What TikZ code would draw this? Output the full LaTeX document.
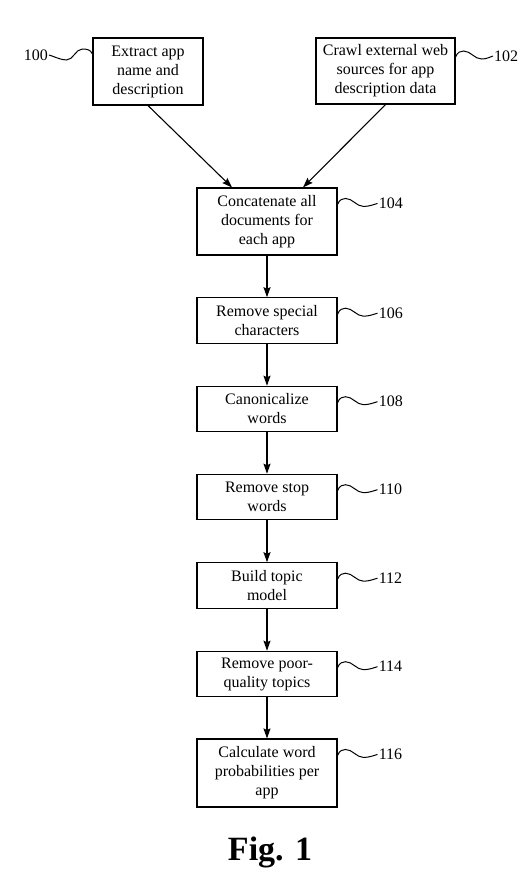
\documentclass[tikz,border=0pt]{standalone}
\usepackage{fontspec}
\setmainfont{Liberation Serif}
\usetikzlibrary{arrows.meta,calc}
\newcommand\squigR[2]{\draw[sq] ($(#1.east |- #2.west)+(0,1)$) .. controls +(2,-5) and +(-3,0) .. ++(8,-6) .. controls +(7,0) and +(-7,0) .. ++(18,8) .. controls +(6,0) and +(-4,1) .. (#2.west);}
\begin{document}
\begin{tikzpicture}[x=1pt,y=-1pt,
 box/.style={draw,line width=1.1pt,align=center,font=\fontsize{16}{19}\selectfont,inner sep=0pt,minimum width=140pt,minimum height=45.5pt},
 lbl/.style={font=\fontsize{16}{19}\selectfont,inner sep=1pt},
 arr/.style={line width=1.1pt,-{Stealth[length=10pt,width=7pt,inset=1.5pt]}},
 sq/.style={line width=1pt}]
\useasboundingbox (0,0) rectangle (529,878);
\node[box,minimum width=110pt,minimum height=67pt] (b100) at (148,71.5) {Extract app\\name and\\description};
\node[box,minimum width=139pt,minimum height=66pt] (b102) at (385.5,71) {Crawl external web\\sources for app\\description data};
\node[box,minimum height=67pt] (b104) at (267,221.5) {Concatenate all\\documents for\\each app};
\node[box] (b106) at (267,320.5) {Remove special\\characters};
\node[box] (b108) at (267,409) {Canonicalize\\words};
\node[box] (b110) at (267,497) {Remove stop\\words};
\node[box] (b112) at (267,585.5) {Build topic\\model};
\node[box] (b114) at (267,674) {Remove poor-\\quality topics};
\node[box,minimum height=68pt] (b116) at (267,773) {Calculate word\\probabilities per\\app};
\node[font=\bfseries\fontsize{34}{40}\selectfont,inner sep=0pt,anchor=base] (fig) at (270,860) {Fig. 1};
% labels
\node[lbl,anchor=east] (l100) at (49,55) {100};
\node[lbl,anchor=west] (l102) at (493,56) {102};
\foreach \b in {104,106,108,110,112,114,116}{
  \node[lbl,anchor=west] (l\b) at ($(b\b.north east)+(40,16)$) {\b};
}
% squiggles
\draw[sq] ($(b100.west |- l100.east)+(0,-1)$) .. controls +(-2,-5) and +(3,0) .. ++(-10,-5) .. controls +(-7,0) and +(7,0) .. ++(-16,11) .. controls +(-6,0) and +(4,1) .. (l100.east);
\squigR{b102}{l102}
\foreach \b in {104,106,108,110,112,114,116}{\squigR{b\b}{l\b}}
% arrows
\draw[arr] (b100.south) -- ($(b104.north)+(-35,0)$);
\draw[arr] (b102.south) -- ($(b104.north)+(36,0)$);
\draw[arr] (b104) -- (b106);
\draw[arr] (b106) -- (b108);
\draw[arr] (b108) -- (b110);
\draw[arr] (b110) -- (b112);
\draw[arr] (b112) -- (b114);
\draw[arr] (b114) -- (b116);
\end{tikzpicture}
\end{document}
